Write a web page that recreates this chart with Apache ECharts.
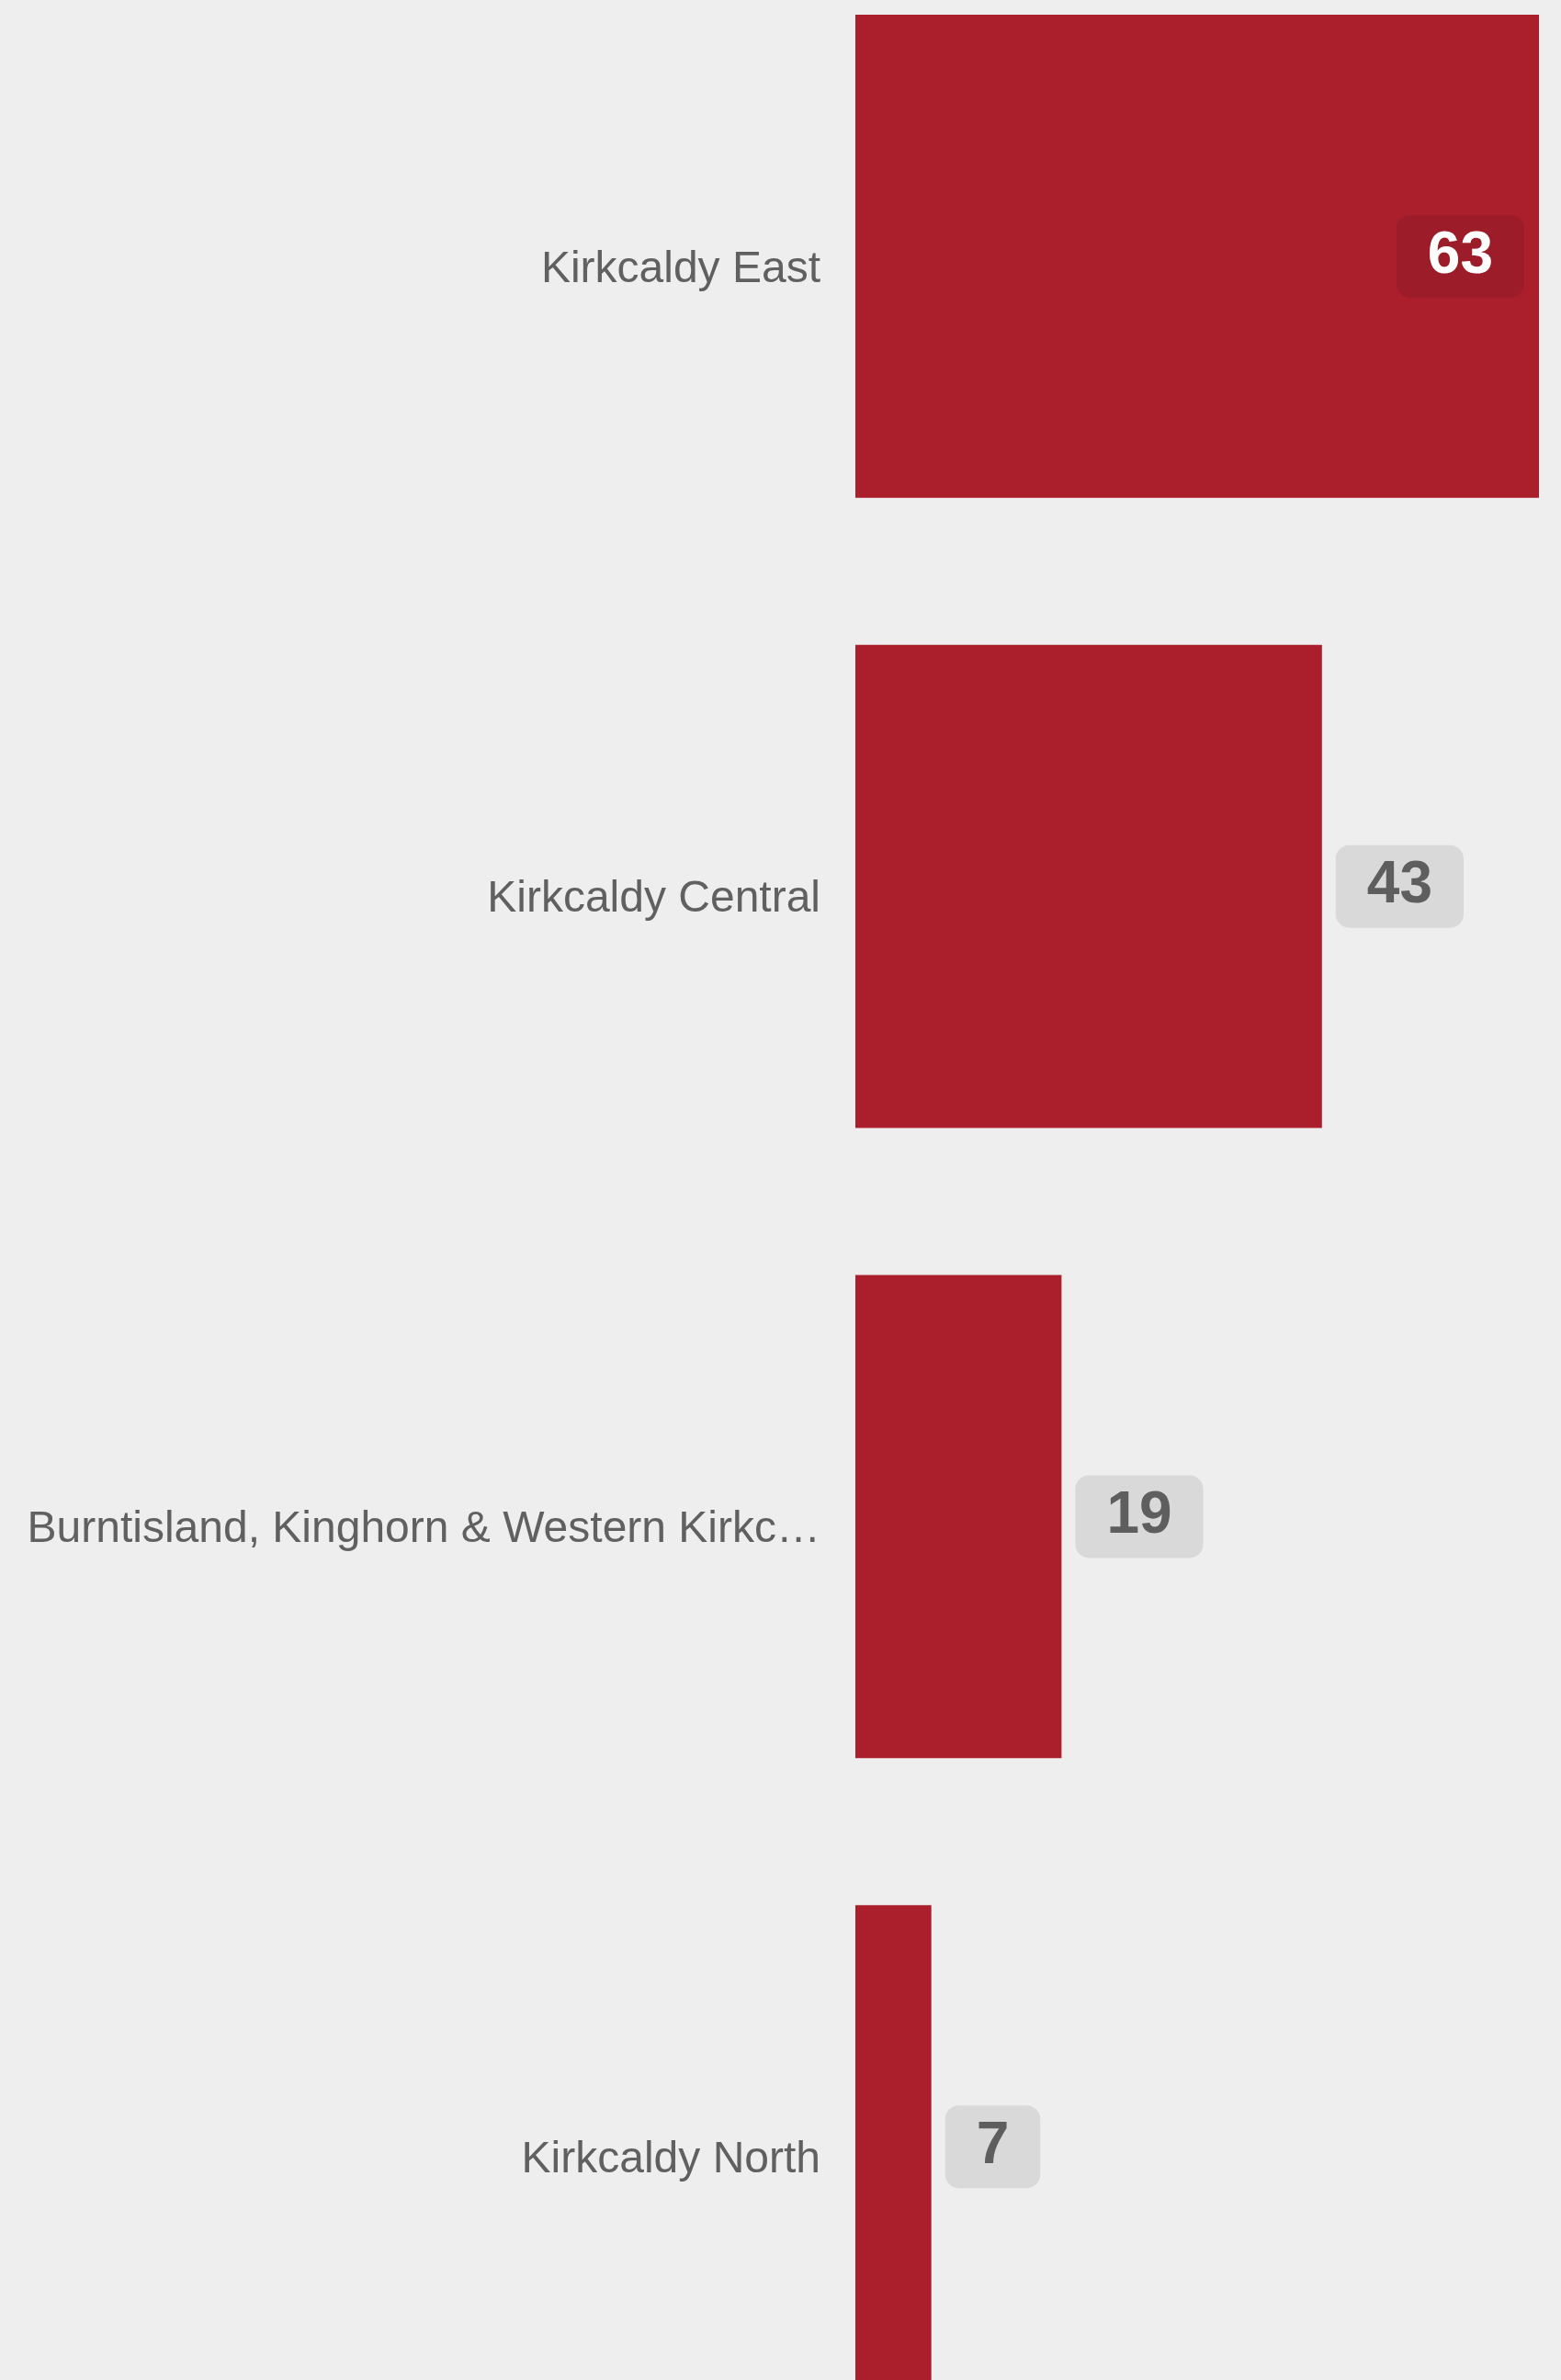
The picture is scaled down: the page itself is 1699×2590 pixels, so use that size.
<!DOCTYPE html>
<html>
<head>
<meta charset="utf-8">
<script src="https://cdn.jsdelivr.net/npm/echarts@6/dist/echarts.min.js"></script>
<style>
html,body{margin:0;padding:0;background:#eeeeee;}
#chart{width:1699px;height:2590px;}
</style>
</head>
<body>
<div id="chart"></div>
<script>
const categories = ["Kirkcaldy East", "Kirkcaldy Central", "Burntisland, Kinghorn & Western Kirkcaldy", "Kirkcaldy North"];
const values = [63, 43, 19, 7];
const insideThreshold = 60;

const chart = echarts.init(document.getElementById('chart'));
const FONT = '"Liberation Sans", Arial, Helvetica, sans-serif';

const seriesData = values.map(function (v) {
  const inside = v >= insideThreshold;
  return {
    value: v,
    label: inside ? {
      position: 'insideRight',
      distance: 16,
      color: '#ffffff',
      backgroundColor: 'rgba(0,0,0,0.08)'
    } : {
      position: 'right',
      distance: 15,
      color: '#5e5e5e',
      backgroundColor: '#d9d9d9'
    }
  };
});

chart.setOption({
  backgroundColor: '#eeeeee',
  animation: false,
  grid: { left: 931, right: 24, top: -64, height: 2743, containLabel: false, outerBoundsMode: 'none' },
  xAxis: {
    type: 'value', min: 0, max: 63,
    show: false,
    splitLine: { show: false }
  },
  yAxis: {
    type: 'category',
    inverse: true,
    data: categories,
    axisLine: { show: false },
    axisTick: { show: false },
    axisLabel: {
      margin: 38,
      fontSize: 48,
      fontFamily: FONT,
      color: '#606060',
      width: 875,
      overflow: 'truncate',
      ellipsis: '…',
      verticalAlign: 'top',
      lineHeight: 29
    }
  },
  series: [{
    type: 'bar',
    data: seriesData,
    barCategoryGap: '23.3%',
    itemStyle: { color: '#ab1f2d' },
    label: {
      show: true,
      fontSize: 64,
      fontWeight: 'bold',
      fontFamily: FONT,
      lineHeight: 62,
      padding: [17, 34, 11, 34],
      borderRadius: 15
    }
  }]
});
</script>
</body>
</html>
